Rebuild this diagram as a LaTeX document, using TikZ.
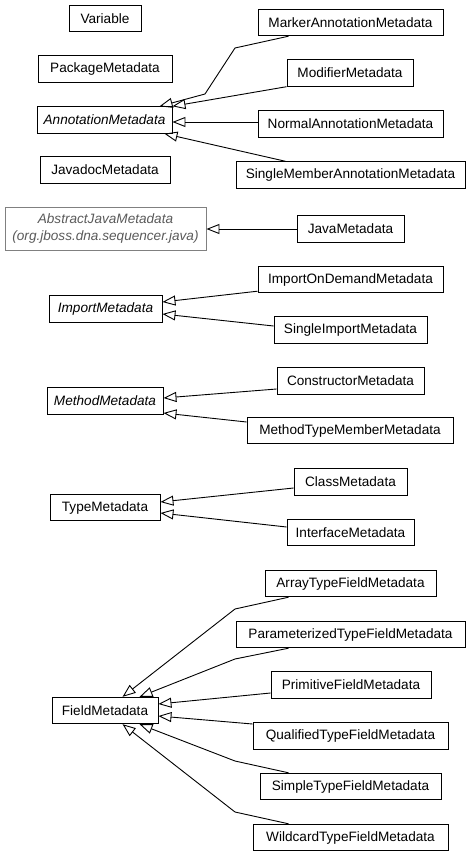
\documentclass[tikz,border=0pt]{standalone}
\usepackage{fontspec}
\setmainfont{Liberation Sans}
\usetikzlibrary{arrows.meta,calc}
\definecolor{absborder}{HTML}{808080}
\definecolor{abstext}{HTML}{5A5A5A}
\begin{document}
\begin{tikzpicture}[x=1pt,y=-1pt,
  cls/.style={draw=black,line width=0.9pt,fill=white,inner sep=0pt,minimum height=26.5pt,
    font=\fontsize{13.6}{15}\selectfont},
  abs/.style={cls,font=\fontsize{13.6}{15}\selectfont\itshape},
  ext/.style={draw=absborder,line width=0.9pt,inner sep=0pt,text=abstext,align=center,
    font=\fontsize{13.6}{16.5}\selectfont\itshape},
  inh/.style={draw=black,line width=0.9pt,-{Triangle[open,length=13pt,width=10pt,line width=0.9pt]}}
]
\useasboundingbox (0,0) rectangle (472,856);
% left column
\node[cls,minimum width=72pt] (var) at (105,18.5) {Variable};
\node[cls,minimum width=134pt] (pkg) at (105,69) {PackageMetadata};
\node[abs,minimum width=135pt] (an) at (104.5,120) {AnnotationMetadata};
\node[cls,minimum width=130pt] (jd) at (105,170) {JavadocMetadata};
\node[ext,minimum width=201pt,minimum height=43pt] (ajm) at (105.5,228.5) {AbstractJavaMetadata\\(org.jboss.dna.sequencer.java)};
\node[abs,minimum width=113pt] (im) at (105.5,309) {ImportMetadata};
\node[abs,minimum width=116pt] (mm) at (105,401) {MethodMetadata};
\node[cls,minimum width=110pt] (tm) at (105,507.5) {TypeMetadata};
\node[cls,minimum width=106pt] (fm) at (105,710.5) {FieldMetadata};
% right column
\node[cls,minimum width=185pt] (mk) at (350.5,22.5) {MarkerAnnotationMetadata};
\node[cls,minimum width=126pt] (mod) at (350,73) {ModifierMetadata};
\node[cls,minimum width=185pt] (nm) at (350.5,124) {NormalAnnotationMetadata};
\node[cls,minimum width=229pt] (sm) at (350.5,175) {SingleMemberAnnotationMetadata};
\node[cls,minimum width=107pt] (jm) at (350.5,229) {JavaMetadata};
\node[cls,minimum width=185pt] (iod) at (350.5,279.5) {ImportOnDemandMetadata};
\node[cls,minimum width=153pt] (si) at (350.5,330) {SingleImportMetadata};
\node[cls,minimum width=147pt] (con) at (350.5,381) {ConstructorMetadata};
\node[cls,minimum width=206pt] (mt) at (350,430.5) {MethodTypeMemberMetadata};
\node[cls,minimum width=113pt] (cm) at (350.5,482) {ClassMetadata};
\node[cls,minimum width=127pt] (ifm) at (350.5,532.5) {InterfaceMetadata};
\node[cls,minimum width=171pt] (at) at (350.5,583.5) {ArrayTypeFieldMetadata};
\node[cls,minimum width=229pt] (pt) at (350.5,634.5) {ParameterizedTypeFieldMetadata};
\node[cls,minimum width=160pt] (pf) at (351,685) {PrimitiveFieldMetadata};
\node[cls,minimum width=195pt] (qt) at (350.5,736) {QualifiedTypeFieldMetadata};
\node[cls,minimum width=181pt] (st) at (350.5,786.5) {SimpleTypeFieldMetadata};
\node[cls,minimum width=195pt] (wt) at (350.5,837.5) {WildcardTypeFieldMetadata};
% inheritance edges
\draw[inh] ($(mk.south west)+(31,0)$) -- (235,48) -- (205,94) -- ($(an.north west)+(123,0)$);
\draw[inh] (mod.south west) -- (an.north east);
\draw[inh] ($(nm.west)+(0,-2)$) -- ($(an.east)+(0,2)$);
\draw[inh] ($(sm.north west)+(50,0)$) -- ($(an.south east)+(-8,0)$);
\draw[inh] (jm.west) -- (jm.west -| ajm.east);
\draw[inh] ($(iod.south west)+(0,-2)$) -- ($(im.east)+(0,-7)$);
\draw[inh] ($(si.west)+(0,-4)$) -- ($(im.east)+(0,5)$);
\draw[inh] ($(con.west)+(0,8)$) -- ($(mm.east)+(0,-3)$);
\draw[inh] ($(mt.west)+(0,-8.5)$) -- ($(mm.east)+(0,12)$);
\draw[inh] ($(cm.west)+(0,6)$) -- ($(tm.east)+(0,-5.5)$);
\draw[inh] ($(ifm.west)+(0,-5.5)$) -- ($(tm.east)+(0,5.5)$);
\draw[inh] ($(at.south west)+(24,0)$) -- (235,609) -- ($(fm.north west)+(71,0)$);
\draw[inh] ($(pt.south west)+(53,0)$) -- (235,659) -- ($(fm.north west)+(88,0)$);
\draw[inh] ($(pf.west)+(0,8)$) -- ($(fm.east)+(0,-6.5)$);
\draw[inh] ($(qt.west)+(0,-12)$) -- ($(fm.east)+(0,5.5)$);
\draw[inh] ($(st.north west)+(29,0)$) -- (235,761) -- ($(fm.south west)+(88,0)$);
\draw[inh] ($(wt.north west)+(36,0)$) -- (235,812) -- ($(fm.south west)+(71,0)$);
\end{tikzpicture}
\end{document}
